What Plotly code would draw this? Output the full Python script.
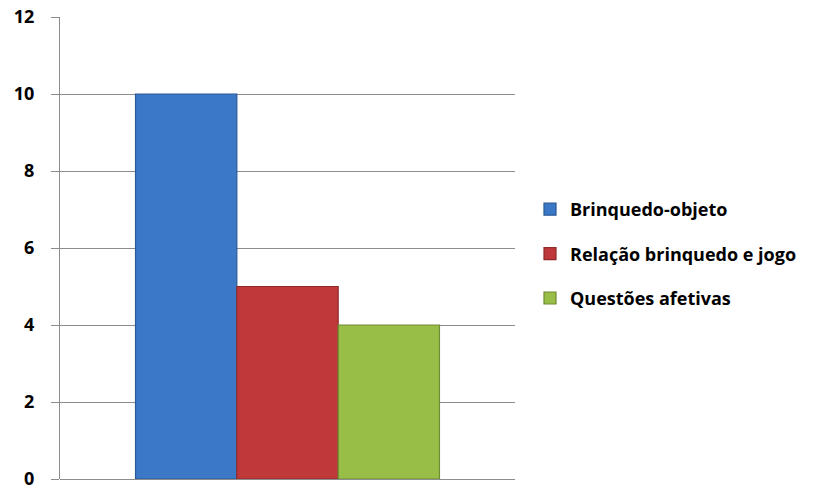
import plotly.graph_objects as go

categories = [""]
series_names = ["Brinquedo-objeto", "Relação brinquedo e jogo", "Questões afetivas"]
series_values = [[10], [5], [4]]
colors = ["#3B78C8", "#C0393A", "#98BE48"]
edge_colors = ["#2A5A96", "#8E2A2A", "#6E8C32"]
tick_vals = [0, 2, 4, 6, 8, 10, 12]

fig = go.Figure()
for i, (name, vals) in enumerate(zip(series_names, series_values)):
    fig.add_trace(go.Bar(
        x=categories, y=vals, name=name,
        marker=dict(color=colors[i], line=dict(color=edge_colors[i], width=1.2)),
        legendgroup=f"g{i}",
    ))

fig.update_layout(
    width=824, height=493,
    margin=dict(l=60, r=309, t=17, b=14),
    paper_bgcolor="white", plot_bgcolor="white",
    barmode="group", bargap=0.332, bargroupgap=0,
    font=dict(family="Open Sans", size=16, color="black"),
    showlegend=True,
    legend=dict(
        xref="container", yref="container",
        x=530/824, y=1 - 254/493, xanchor="left", yanchor="middle",
        font=dict(family="Open Sans", size=18, color="black", weight="bold"),
        traceorder="grouped", tracegroupgap=18,
        itemwidth=30,
    ),
    xaxis=dict(showticklabels=False, showgrid=False, zeroline=False,
               showline=False, ticks=""),
    yaxis=dict(range=[0, 12], tickvals=tick_vals, ticktext=[str(v) for v in tick_vals],
               showgrid=True, gridcolor="#8C8C8C", gridwidth=1,
               zeroline=True, zerolinecolor="#8C8C8C", zerolinewidth=1,
               showline=True, linecolor="#8C8C8C", linewidth=1,
               ticks="outside", ticklen=8, tickcolor="#8C8C8C",
               tickfont=dict(family="Open Sans", size=18, color="black", weight="bold"),
               ticklabelstandoff=13, ticklabeloverflow="allow", automargin=False),
)

fig.write_html("out.html")
